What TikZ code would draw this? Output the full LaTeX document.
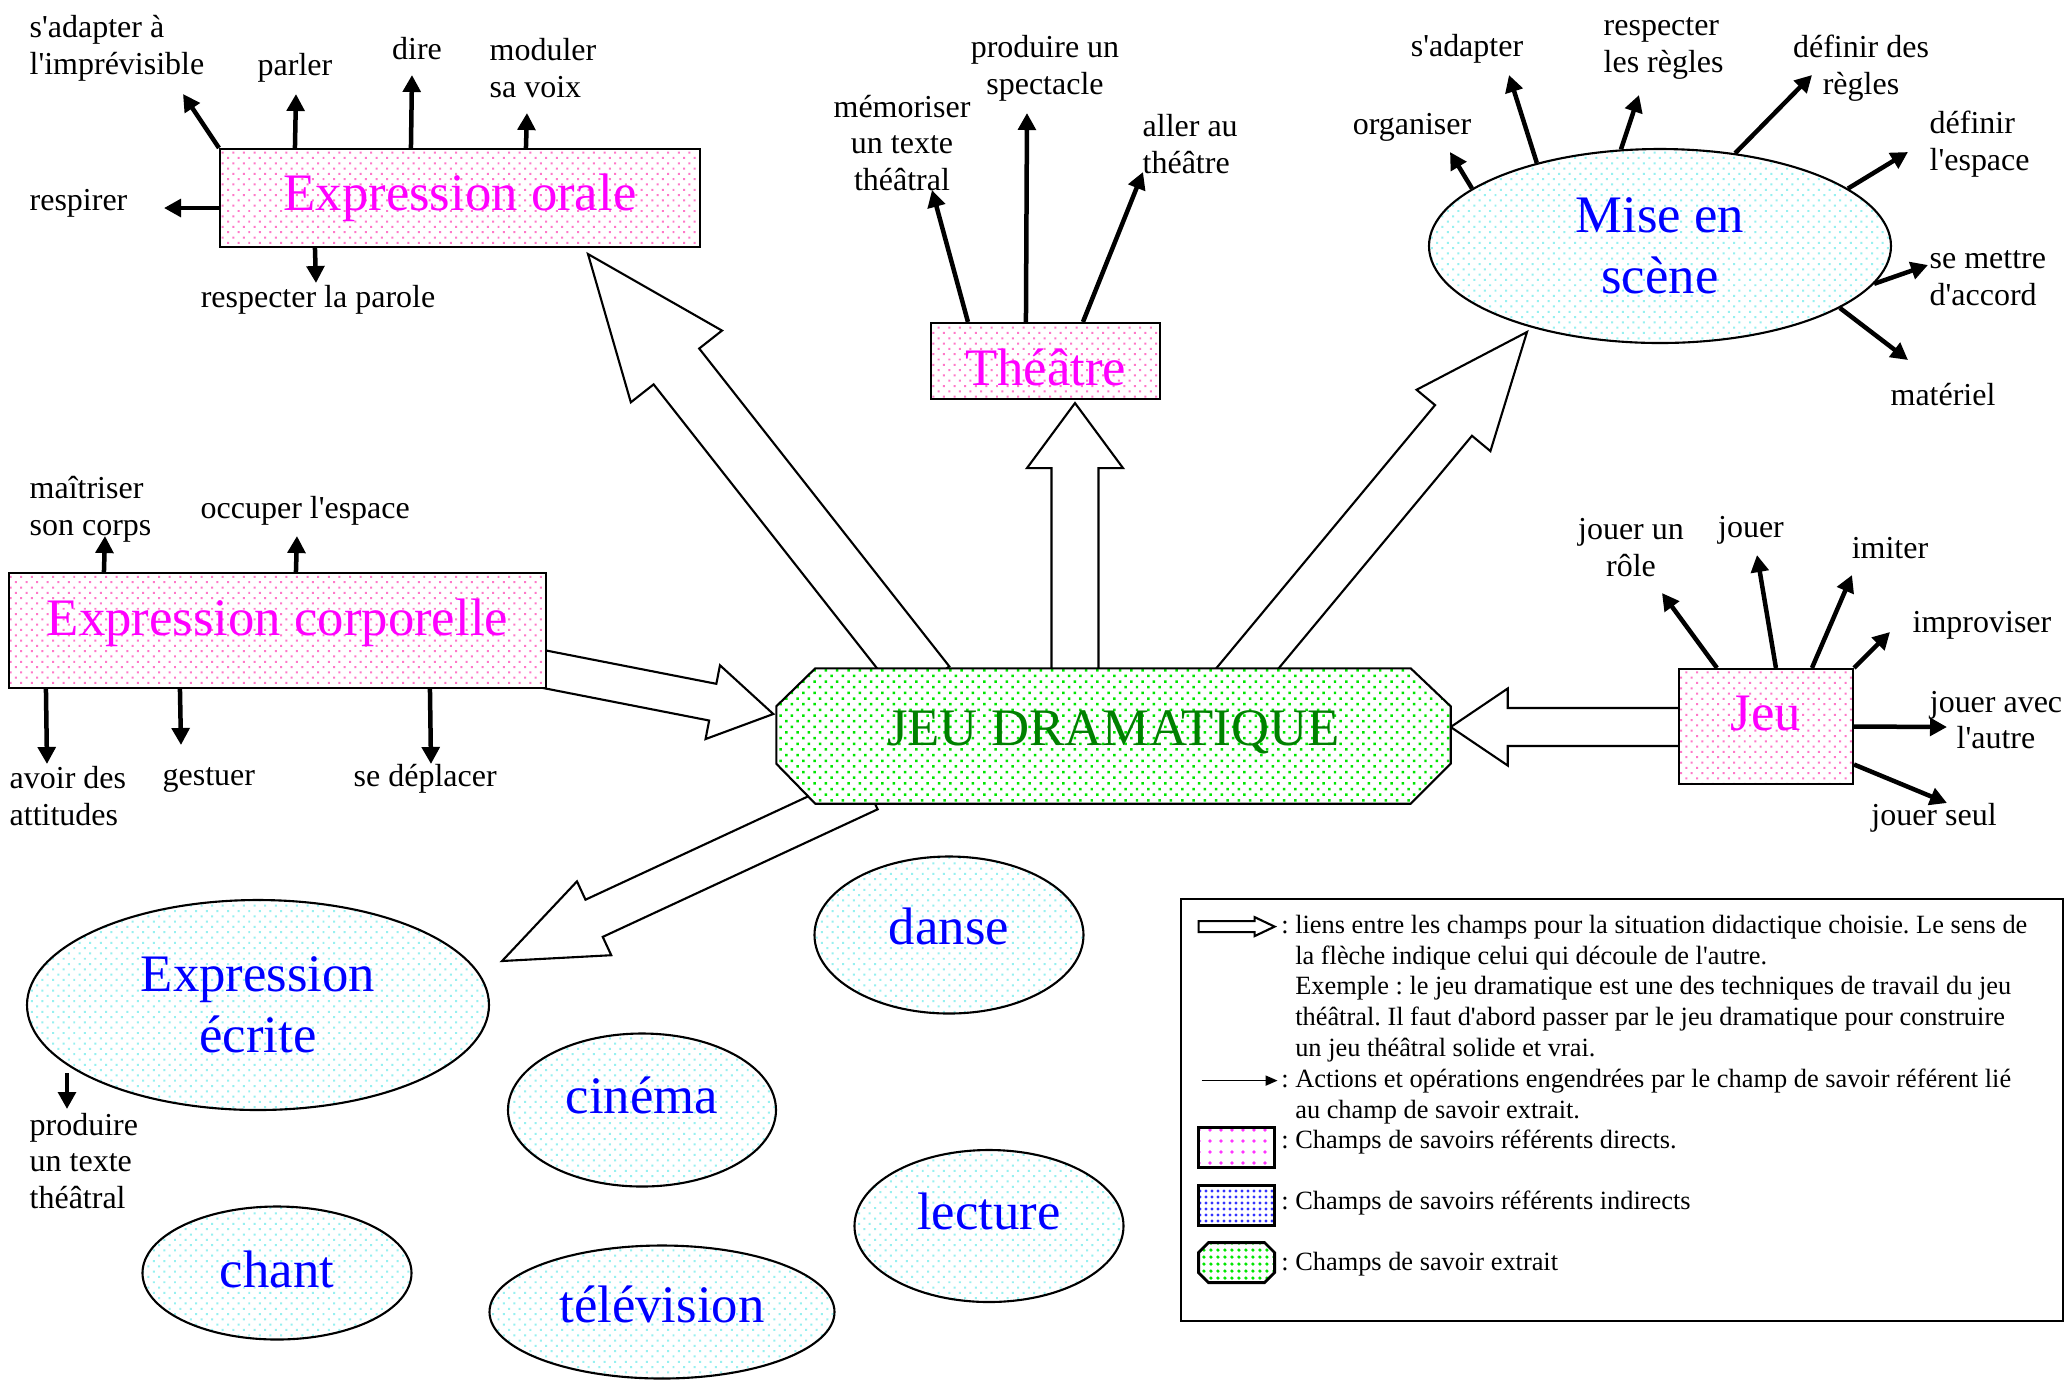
\documentclass[tikz,border=0pt]{standalone}
\usepackage{fontspec}
\setmainfont{Liberation Serif}[Ligatures=TeXOff]
\usetikzlibrary{arrows.meta,calc,shapes.geometric,patterns.meta}

\pgfdeclarelayer{links}
\pgfdeclarelayer{shapes}
\pgfsetlayers{links,shapes,main}

\definecolor{dirdots}{RGB}{255,120,200}
\definecolor{inddots}{RGB}{150,240,240}
\definecolor{extdots}{RGB}{0,230,0}
\definecolor{extgreen}{RGB}{0,128,0}
\definecolor{fieldmag}{RGB}{255,0,255}
\definecolor{fieldblue}{RGB}{0,0,255}

\newcommand{\lblfont}{\fontsize{9.1}{10.5}\selectfont}
\newcommand{\fieldfont}{\fontsize{15}{17.2}\selectfont}
\newcommand{\legfont}{\fontsize{7.5}{8.73}\selectfont}

% hollow arrow: start, tip, shaft half width, head half width, head length
\newcommand{\linkarr}[5]{%
  \coordinate (lk-h) at ($(#2)!#5!(#1)$);
  \draw[linkarrow] ($(#1)!#3!90:(#2)$) -- ($(lk-h)!#3!90:(#2)$) -- ($(lk-h)!#4!90:(#2)$)
    -- (#2) -- ($(lk-h)!#4!-90:(#2)$) -- ($(lk-h)!#3!-90:(#2)$) -- ($(#1)!#3!-90:(#2)$) -- cycle;}

\tikzset{
  lbl/.style={font=\lblfont, inner sep=0pt, align=left, yshift=-0.3mm},
  dirfield/.style={draw, line width=0.6pt, preaction={fill=white},
    pattern={Dots[distance=0.75mm, radius=0.4pt, angle=45]}, pattern color=dirdots,
    text=fieldmag, font=\fieldfont, inner sep=0pt},
  indfield/.style={ellipse, draw, line width=0.6pt, preaction={fill=white},
    pattern={Dots[distance=0.75mm, radius=0.4pt, angle=45]}, pattern color=inddots,
    text=fieldblue, font=\fieldfont, align=center, inner sep=0pt},
  extfield/.style={draw, line width=0.6pt, preaction={fill=white},
    pattern={Dots[distance=0.8mm, radius=0.5pt, angle=45]}, pattern color=extdots},
  actarrow/.style={line width=0.45mm, -{Triangle[length=1.7mm, width=1.75mm]}},
  linkarrow/.style={draw, line width=0.6pt, fill=white},
  legtext/.style={font=\legfont, inner sep=0pt, align=left, anchor=west},
}

\begin{document}
\frenchspacing
\begin{tikzpicture}[x=0.1mm, y=-0.1mm]
\useasboundingbox (0,0) rectangle (2067,1383);

\node[dirfield, minimum width=48mm, minimum height=9.8mm] (eo) at (460,198) {Expression orale};
\node[dirfield, minimum width=22.9mm, minimum height=7.6mm, text height=5mm] (th) at (1045.5,361) {Théâtre};
\node[dirfield, minimum width=53.7mm, minimum height=11.5mm, text depth=2.75mm] (ec) at (277.5,630.5) {Expression corporelle};
\node[dirfield, minimum width=17.4mm, minimum height=11.5mm, text depth=2.7mm] (jeu) at (1766,726.5) {Jeu};

\node[indfield, minimum width=46.2mm, minimum height=19.4mm] (mes) at (1660,246) {Mise en\\scène};
\node[indfield, minimum width=46.2mm, minimum height=21mm] (ee) at (258,1005) {Expression\\écrite};
\node[indfield, minimum width=26.9mm, minimum height=15.7mm, text depth=1.8mm] (danse) at (949,935) {danse};
\node[indfield, minimum width=26.8mm, minimum height=15.3mm, text depth=2.9mm] (cinema) at (642,1110) {cinéma};
\node[indfield, minimum width=26.9mm, minimum height=15.2mm, text depth=2.9mm] (lecture) at (989,1226) {lecture};
\node[indfield, minimum width=26.9mm, minimum height=13.3mm, text depth=0.8mm] (chant) at (277,1273) {chant};
\node[indfield, minimum width=34.5mm, minimum height=13.3mm, text depth=1.6mm] (tele) at (662,1312) {télévision};

\node[font=\fieldfont, text=extgreen, minimum width=67.3mm, minimum height=13.4mm, inner sep=0pt, text depth=1.6mm] (jd) at (1113.5,736) {JEU DRAMATIQUE};
\begin{pgfonlayer}{shapes}
\draw[extfield] ([shift={(39,0)}]jd.north west) -- ([shift={(-40,0)}]jd.north east) -- ([shift={(0,38)}]jd.north east)
  -- ([shift={(0,-40)}]jd.south east) -- ([shift={(-40,0)}]jd.south east) -- ([shift={(39,0)}]jd.south west)
  -- ([shift={(0,-40)}]jd.south west) -- ([shift={(0,38)}]jd.north west) -- cycle;
\end{pgfonlayer}

\begin{pgfonlayer}{links}
\coordinate (ls1) at ([shift={(-187,16)}]jd.north);   \coordinate (lt1) at ([shift={(128,6)}]eo.south);
\coordinate (ls2) at ([shift={(-38.5,21)}]jd.north);  \coordinate (lt2) at ([shift={(29.5,3)}]th.south);
\coordinate (ls3) at ([shift={(121.5,15)}]jd.north);  \coordinate (lt3) at ([shift={(-133,86)}]mes.center);
\coordinate (ls4) at ([shift={(-244.5,-13)}]jd.south); \coordinate (lt4) at ([shift={(12,-44)}]ee.east);
\coordinate (ls5) at ([shift={(-19,35.5)}]ec.east);   \coordinate (lt5) at ([shift={(-3,-22)}]jd.west);
\coordinate (ls6) at ([shift={(21,0.5)}]jeu.west);    \coordinate (lt6) at ([shift={(0,-9)}]jd.east);
\linkarr{ls1}{lt1}{2.9mm}{5.8mm}{14.3mm}
\linkarr{ls2}{lt2}{2.35mm}{4.8mm}{6.5mm}
\linkarr{ls3}{lt3}{2.4mm}{4.8mm}{11.5mm}
\linkarr{ls4}{lt4}{2.05mm}{4.07mm}{10.15mm}
\linkarr{ls5}{lt5}{1.87mm}{3.76mm}{6.17mm}
\linkarr{ls6}{lt6}{1.9mm}{3.85mm}{5.7mm}
\end{pgfonlayer}

\foreach \n/\x/\y in {o1/183/94, o2/296/94, o3/412/75, o4/527/113, o5/164/208, o6/316/283,
    h1/932/190, h2/1027/113, h3/1143/172,
    m1/1450/152, m2/1509/75, m3/1639/95, m4/1812/75, m5/1908/152, m6/1928/265, m7/1908/360,
    j1/1662/593, j2/1757/555, j3/1852/575, j4/1890/632, j5/1947/727, j6/1947/803,
    c1/105/536, c2/297/536, c3/47/764, c4/181/745, c5/431/764, w1/67/1109}
  \coordinate (\n) at (\x,\y);

\draw[actarrow] (eo.north west) -- (o1);
\draw[actarrow] ([shift={(76,0)}]eo.north west) -- (o2);
\draw[actarrow] ([shift={(192,0)}]eo.north west) -- (o3);
\draw[actarrow] ([shift={(307,0)}]eo.north west) -- (o4);
\draw[actarrow] ([shift={(0,10)}]eo.west) -- (o5);
\draw[actarrow] ([shift={(96,0)}]eo.south west) -- (o6);

\draw[actarrow] ([shift={(38,0)}]th.north west) -- (h1);
\draw[actarrow] ([shift={(96,0)}]th.north west) -- (h2);
\draw[actarrow] ([shift={(153,0)}]th.north west) -- (h3);

\foreach \a/\t in {163/m1, 146/m2, 112/m3, 51/m4, 17/m5, 350/m6, 341/m7}
  \draw[actarrow] (mes.\a) -- (\t);

\draw[actarrow] ([shift={(39,0)}]jeu.north west) -- (j1);
\draw[actarrow] ([shift={(98,0)}]jeu.north west) -- (j2);
\draw[actarrow] ([shift={(134,0)}]jeu.north west) -- (j3);
\draw[actarrow] (jeu.north east) -- (j4);
\draw[actarrow] (jeu.east) -- (j5);
\draw[actarrow] ([shift={(0,38)}]jeu.east) -- (j6);

\draw[actarrow] ([shift={(96,0)}]ec.north west) -- (c1);
\draw[actarrow] ([shift={(288,0)}]ec.north west) -- (c2);
\draw[actarrow] ([shift={(38,0)}]ec.south west) -- (c3);
\draw[actarrow] ([shift={(172,0)}]ec.south west) -- (c4);
\draw[actarrow] ([shift={(422,0)}]ec.south west) -- (c5);

\draw[actarrow] ([shift={(-191,68)}]ee.center) -- (w1);

\node[lbl, anchor=west] (adapt) at (29,45) {s'adapter à\\l'imprévisible};
\node[lbl] (parler) at (295,65) {parler};
\node[lbl] (dire) at (417,46) {dire};
\node[lbl, anchor=west] (moduler) at (489,65) {moduler\\sa voix};
\node[lbl, anchor=west] (respirer) at (29,200) {respirer};
\node[lbl] (parole) at (318,297) {respecter la parole};

\node[lbl, align=center] (memo) at (902,140) {mémoriser\\un texte\\théâtral};
\node[lbl, align=center] (spect) at (1045,65) {produire un\\spectacle};
\node[lbl, anchor=west] (aller) at (1142,141) {aller au\\théâtre};

\node[lbl] (organ) at (1412,124) {organiser};
\node[lbl] (sadapt) at (1467,46) {s'adapter};
\node[lbl, anchor=west] (regles) at (1603,45) {respecter\\les règles};
\node[lbl, align=center] (defreg) at (1861,65) {définir des\\règles};
\node[lbl, anchor=west] (defesp) at (1929,141) {définir\\l'espace};
\node[lbl, anchor=west] (accord) at (1929,275) {se mettre\\d'accord};
\node[lbl] (mater) at (1943,392) {matériel};

\node[lbl, anchor=west] (corps) at (29,506) {maîtriser\\son corps};
\node[lbl, anchor=west] (occup) at (200,508) {occuper l'espace};
\node[lbl, anchor=west] (attit) at (9,793) {avoir des\\attitudes};
\node[lbl, anchor=west] (gest) at (162,777) {gestuer};
\node[lbl, anchor=west] (depl) at (353,776) {se déplacer};

\node[lbl, align=center] (role) at (1631,545) {jouer un\\rôle};
\node[lbl] (jouer) at (1751,527) {jouer};
\node[lbl] (imiter) at (1890,545) {imiter};
\node[lbl, anchor=west] (improv) at (1912,622) {improviser};
\node[lbl, align=center] (autre) at (1996,717) {jouer avec\\l'autre};
\node[lbl] (seul) at (1934,815) {jouer seul};

\node[lbl, anchor=west] (texte) at (29,1158) {produire\\un texte\\théâtral};

% legende
\node[draw, line width=0.8pt, minimum width=88.2mm, minimum height=42.2mm, inner sep=0pt] (legend) at (1622,1110) {};
\begin{scope}[shift={(legend.north west)}]
\coordinate (lg1) at (19,29); \coordinate (lg2) at (95,29);
\linkarr{lg1}{lg2}{0.55mm}{0.95mm}{2mm}
\coordinate (lg3) at (22,183); \coordinate (lg4) at (98,183);
\draw[line width=0.5pt, -{Triangle[length=1.2mm, width=1mm]}] (lg3) -- (lg4);
\draw[line width=0.8pt, preaction={fill=white}, pattern={Dots[distance=1.1mm, radius=0.55pt]}, pattern color=fieldmag!80]
  (19,230) rectangle (95,270);
\draw[line width=0.8pt, preaction={fill=white}, pattern={Dots[distance=0.6mm, radius=0.45pt]}, pattern color=fieldblue!80]
  (19,288) rectangle (95,328);
\draw[line width=0.8pt, preaction={fill=white}, pattern={Dots[distance=0.7mm, radius=0.5pt]}, pattern color=extdots]
  (29,345) -- (85,345) -- (95,355) -- (95,375) -- (85,385) -- (29,385) -- (19,375) -- (19,355) -- cycle;
\node[legtext] (leg1) at (115,91) {\llap{: }liens entre les champs pour la situation didactique choisie. Le sens de\\la flèche indique celui qui découle de l'autre.\\Exemple : le jeu dramatique est une des techniques de travail du jeu\\théâtral. Il faut d'abord passer par le jeu dramatique pour construire\\un jeu théâtral solide et vrai.};
\node[legtext] (leg2) at (115,199) {\llap{: }Actions et opérations engendrées par le champ de savoir référent lié\\au champ de savoir extrait.};
\node[legtext] (leg3) at (115,244) {\llap{: }Champs de savoirs référents directs.};
\node[legtext] (leg4) at (115,305) {\llap{: }Champs de savoirs référents indirects};
\node[legtext] (leg5) at (115,367) {\llap{: }Champs de savoir extrait};
\end{scope}
\end{tikzpicture}
\end{document}
